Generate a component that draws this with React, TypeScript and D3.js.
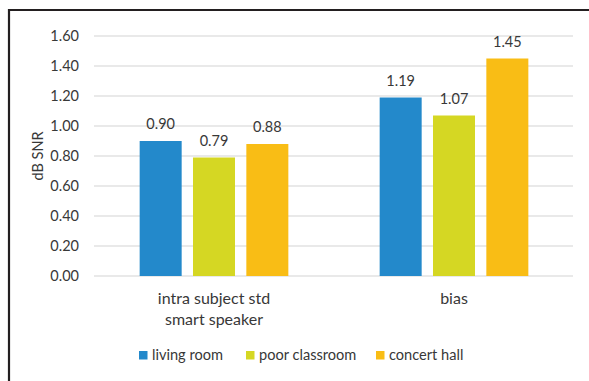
import React from "react";
import * as d3 from "d3";

const categories = ["intra subject std\nsmart speaker", "bias"];
const seriesNames = ["living room", "poor classroom", "concert hall"];
const livingRoom = [0.9, 1.19];
const poorClassroom = [0.79, 1.07];
const concertHall = [0.88, 1.45];
const yTicks = [0, 0.2, 0.4, 0.6, 0.8, 1.0, 1.2, 1.4, 1.6];
const colors = ["#2389cb", "#d5d723", "#f9bd15"];

const W = 589;
const H = 381;
const FONT = "Lato, 'Open Sans', sans-serif";
const TEXT = "#383838";

export default function App() {
  const series = [livingRoom, poorClassroom, concertHall];
  const x0 = d3.scaleBand<string>().domain(categories).range([94, 574]).paddingInner(0).paddingOuter(0);
  const x1 = d3
    .scaleBand<string>()
    .domain(seriesNames)
    .range([0, x0.bandwidth()])
    .paddingInner(0.2125)
    .paddingOuter(0.856);
  const y = d3.scaleLinear().domain([0, 1.6]).range([276, 36]);

  return (
    <svg
      width={W}
      height={H}
      style={{ position: "absolute", left: 0, top: 0, background: "#fff" }}
      fontFamily={FONT}
    >
      {/* frame */}
      <line x1={9} y1={10} x2={W} y2={10} stroke="#231f20" strokeWidth={2.2} />
      <line x1={9} y1={9} x2={9} y2={H} stroke="#231f20" strokeWidth={2.2} />

      {/* grid + y ticks */}
      {yTicks.map((t) => (
        <g key={t}>
          <line x1={94} x2={573} y1={y(t)} y2={y(t)} stroke="#e2e2e2" strokeWidth={1.3} />
          <text x={79} y={y(t)} dy="0.35em" textAnchor="end" fontSize={14.5} fill={TEXT}>
            {d3.format(".2f")(t)}
          </text>
        </g>
      ))}

      <text
        transform={`translate(38,${y(0.8)}) rotate(-90)`}
        textAnchor="middle"
        dy="0.35em"
        fontSize={14.5}
        fill={TEXT}
      >
        dB SNR
      </text>

      {/* bars */}
      {categories.map((c, ci) => (
        <g key={c} transform={`translate(${x0(c)},0)`}>
          {seriesNames.map((s, si) => {
            const v = series[si][ci];
            const bx = x1(s)!;
            return (
              <g key={s}>
                <rect x={bx} y={y(v)} width={x1.bandwidth()} height={y(0) - y(v)} fill={colors[si]} />
                <text
                  x={bx + x1.bandwidth() / 2}
                  y={y(v) - 17}
                  dy="0.35em"
                  textAnchor="middle"
                  fontSize={14.5}
                  fill={TEXT}
                >
                  {d3.format(".2f")(v)}
                </text>
              </g>
            );
          })}
          {c.split("\n").map((line, li) => (
            <text
              key={li}
              x={x0.bandwidth() / 2}
              y={298 + li * 21}
              dy="0.35em"
              textAnchor="middle"
              fontSize={16}
              fill={TEXT}
            >
              {line}
            </text>
          ))}
        </g>
      ))}

      {/* legend */}
      {seriesNames.map((s, si) => {
        const lx = [139, 246, 376][si];
        return (
          <g key={s} transform={`translate(${lx},355)`}>
            <rect x={0} y={-4} width={8.5} height={8.5} fill={colors[si]} />
            <text x={13} y={0} dy="0.35em" fontSize={14.6} fill={TEXT}>
              {s}
            </text>
          </g>
        );
      })}
    </svg>
  );
}
